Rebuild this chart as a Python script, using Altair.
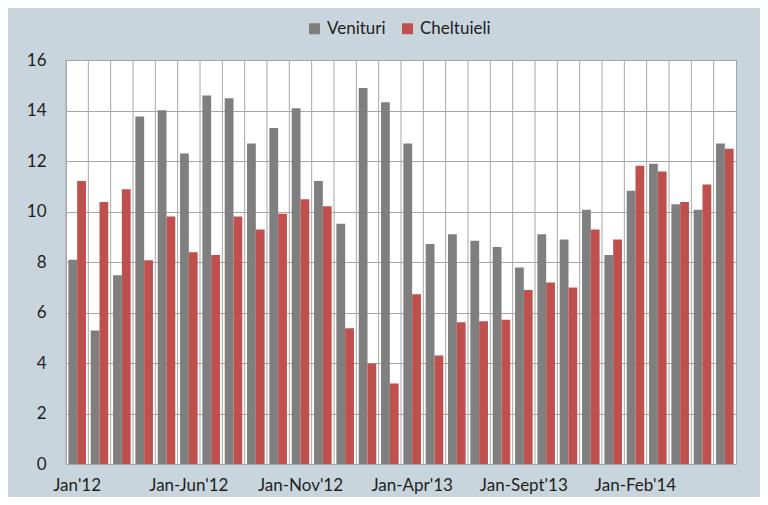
import altair as alt
import pandas as pd

categories = [
    "Jan'12", "Jan-Feb'12", "Jan-Mar'12", "Jan-Apr'12", "Jan-May'12", "Jan-Jun'12",
    "Jan-Jul'12", "Jan-Aug'12", "Jan-Sept'12", "Jan-Oct'12", "Jan-Nov'12", "Jan-Dec'12",
    "Jan'13", "Jan-Feb'13", "Jan-Mar'13", "Jan-Apr'13", "Jan-May'13", "Jan-Jun'13",
    "Jan-Jul'13", "Jan-Aug'13", "Jan-Sept'13", "Jan-Oct'13", "Jan-Nov'13", "Jan-Dec'13",
    "Jan'14", "Jan-Feb'14", "Jan-Mar'14", "Jan-Apr'14", "Jan-May'14", "Jan-Jun'14",
]
venituri = [8.09, 5.29, 7.48, 13.76, 14.01, 12.30, 14.59, 14.49, 12.69, 13.31,
            14.09, 11.21, 9.51, 14.89, 14.33, 12.69, 8.71, 9.10, 8.84, 8.59,
            7.78, 9.10, 8.89, 10.07, 8.28, 10.82, 11.89, 10.29, 10.07, 12.69]
cheltuieli = [11.21, 10.38, 10.88, 8.07, 9.80, 8.39, 8.28, 9.80, 9.29, 9.91,
              10.49, 10.21, 5.38, 3.98, 3.19, 6.72, 4.30, 5.61, 5.65, 5.71,
              6.89, 7.19, 6.99, 9.29, 8.89, 11.81, 11.58, 10.38, 11.07, 12.49]
series = ["Venituri", "Cheltuieli"]
colors = ["#7f7f7f", "#c0504d"]
shown_labels = ["Jan'12", "Jan-Jun'12", "Jan-Nov'12", "Jan-Apr'13", "Jan-Sept'13", "Jan-Feb'14"]
y_ticks = [0, 2, 4, 6, 8, 10, 12, 14, 16]

rows = []
for c, v, ch in zip(categories, venituri, cheltuieli):
    rows.append({"cat": c, "serie": series[0], "val": v})
    rows.append({"cat": c, "serie": series[1], "val": ch})
df = pd.DataFrame(rows)
cat_df = pd.DataFrame({"cat": categories})

FONT = "Lato"

x_scale = alt.Scale(domain=categories, paddingInner=0, paddingOuter=0)
x_axis = alt.Axis(values=shown_labels, title=None, labelAngle=0,
                  ticks=False, domain=False, grid=False,
                  labelFont=FONT, labelFontSize=17, labelColor="#1e1e1e",
                  labelPadding=13)

grid = alt.Chart(cat_df).mark_rule(color="#a6a6a6", strokeWidth=1).encode(
    x=alt.X("cat:N", scale=x_scale, sort=categories, bandPosition=0, axis=x_axis),
)

bars = alt.Chart(df).mark_bar().encode(
    x=alt.X("cat:N", scale=x_scale, sort=categories, axis=x_axis),
    xOffset=alt.XOffset("serie:N", sort=series,
                        scale=alt.Scale(domain=series, paddingInner=0, paddingOuter=0.27)),
    y=alt.Y("val:Q", scale=alt.Scale(domain=[0, 16], nice=False),
            axis=alt.Axis(values=y_ticks, title=None, ticks=False, domain=False,
                          grid=True, gridColor="#a6a6a6", gridWidth=1,
                          labelFont=FONT, labelFontSize=17, labelColor="#1e1e1e",
                          labelPadding=20)),
    color=alt.Color("serie:N", sort=series,
                    scale=alt.Scale(domain=series, range=colors),
                    legend=alt.Legend(title=None, orient="none", direction="horizontal",
                                      legendX=240, legendY=-40, symbolType="square",
                                      symbolSize=121, symbolStrokeWidth=0,
                                      labelFont=FONT, labelFontSize=17, labelColor="#1e1e1e",
                                      columnPadding=13, labelOffset=4)),
)

chart = alt.layer(grid, bars).properties(
    width=670, height=404,
    background="#c9d5dc",
    padding={"left": 58, "top": 52, "right": 24, "bottom": 33},
    autosize=alt.AutoSizeParams(type="none"),
).configure_view(stroke="#a6a6a6", fill="white")

chart.save("out.html", embed_options={"renderer": "svg", "actions": False})
